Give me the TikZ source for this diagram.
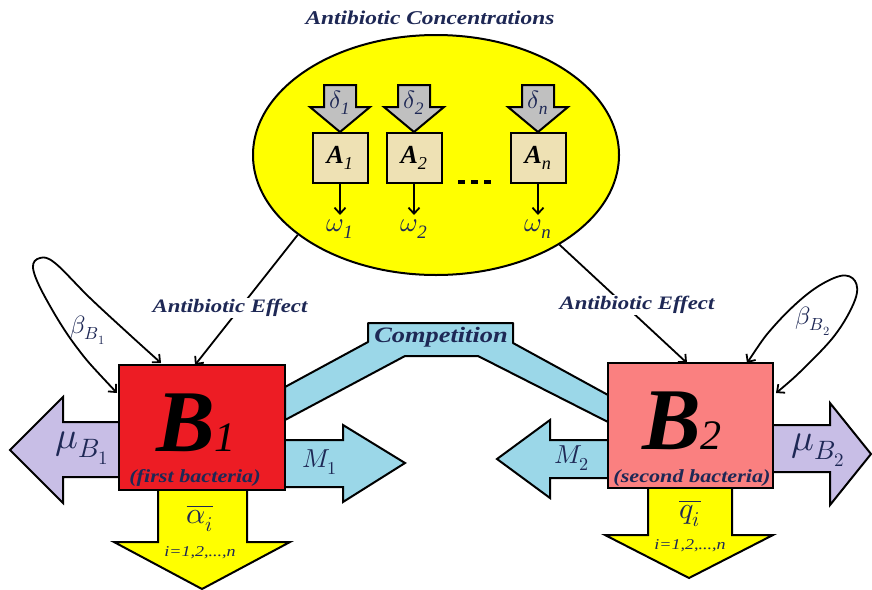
\documentclass[tikz,border=0pt]{standalone}
\usepackage{fontspec}
\usepackage{unicode-math}
\setmainfont{Liberation Serif}
\setmathfont{Latin Modern Math}
\newfontfamily\wideserif[FakeStretch=1.2]{Liberation Serif}
\usetikzlibrary{shapes.geometric,arrows.meta,calc}
\definecolor{navy}{RGB}{30,40,85}
\definecolor{ellyellow}{RGB}{255,255,0}
\definecolor{arrgray}{RGB}{192,192,192}
\definecolor{boxbeige}{RGB}{238,225,180}
\definecolor{bonered}{RGB}{237,28,36}
\definecolor{btwopink}{RGB}{250,128,128}
\definecolor{lavender}{RGB}{200,190,230}
\definecolor{lightcyan}{RGB}{155,215,232}
\begin{document}
\begin{tikzpicture}[x=1pt,y=-1pt,
  blk/.style={draw=black,line width=2pt,line join=miter},
  thinarrow/.style={line width=1.8pt,-{Straight Barb[length=6pt,width=11pt]}},
  loopline/.style={line width=1.8pt,{Straight Barb[length=6pt,width=11pt]}-{Straight Barb[length=6pt,width=11pt]}},
  lbl/.style={text=navy,inner sep=0pt},
  boxA/.style={draw,line width=2pt,fill=boxbeige,minimum width=55pt,minimum height=50pt,inner sep=0pt},
  bbox/.style={draw,line width=2pt,minimum width=166pt,minimum height=125pt,inner sep=0pt},
  effect/.style={fill=white,inner sep=1pt,text=navy,font=\wideserif\fontsize{19}{20}\selectfont\bfseries\itshape}
]
\useasboundingbox (0,0) rectangle (872,589);
\fill[white] (0,0) rectangle (872,589);

% title
\node[text=navy,inner sep=0pt] (title) at (430,18) {\wideserif\fontsize{19.5}{20}\selectfont\bfseries\itshape Antibiotic Concentrations};

% competition band (drawn first, boxes cover its ends)
\draw[blk,fill=lightcyan,line join=round] (285,387) -- (368,342) -- (368,323) -- (513,323) -- (513,343) -- (608,395) -- (608,422) -- (478,356) -- (405,356) -- (285,420) -- cycle;
\node[lbl] (comp) at (441,337) {\wideserif\fontsize{22}{22}\selectfont\bfseries\itshape Competition};

% concentration ellipse
\node[ellipse,draw,line width=2pt,fill=ellyellow,minimum width=366pt,minimum height=240pt,inner sep=0pt] (conc) at (436,155) {};

\foreach \cx/\s in {340/1,414/2,538/n} {
  \draw[blk,fill=arrgray] (\cx-16,85) -- (\cx+16,85) -- (\cx+16,107) -- (\cx+30,107) -- (\cx,132) -- (\cx-30,107) -- (\cx-16,107) -- cycle;
  \node[lbl] (d\s) at (\cx,103) {\fontsize{25}{25}\selectfont$\delta_{\mathit{\s}}$};
  \node[boxA] (A\s) at (\cx,158) {\fontsize{26}{26}\selectfont\bfseries\itshape A\textsubscript{\mdseries\s}};
  \draw[thinarrow] (A\s.south) -- ++(0,31);
  \node[lbl] (w\s) at (\cx,229) {\fontsize{27}{27}\selectfont$\omega_{\mathit{\s}}$};
}
\draw[line width=4pt,dash pattern=on 7pt off 6pt] (458,182) -- (496,182);

% bacteria boxes and side arrows
\draw[blk,fill=lavender] (119,422) -- (63,422) -- (63,397) -- (10,450) -- (63,503) -- (63,477) -- (119,477);
\draw[blk,fill=lightcyan] (285,440) -- (343,440) -- (343,425) -- (405,463) -- (343,502) -- (343,487) -- (285,487);
\draw[blk,fill=lightcyan] (608,440) -- (550,440) -- (550,420) -- (497,459) -- (550,498) -- (550,478) -- (608,478);
\draw[blk,fill=lavender] (773,425) -- (830,425) -- (830,403) -- (871,454) -- (830,505) -- (830,472) -- (773,472);
\draw[blk,fill=ellyellow] (158,490) -- (158,542) -- (114,542) -- (202,589) -- (290,542) -- (247,542) -- (247,490);
\draw[blk,fill=ellyellow] (648,488) -- (648,535) -- (605,535) -- (689,578) -- (773,535) -- (732,535) -- (732,488);

\node[bbox,fill=bonered] (B1) at (202,427.5) {};
\node[bbox,fill=btwopink,minimum width=165pt] (B2) at (690.5,425.5) {};

\node[inner sep=0pt,anchor=base] (B1t) at (196,451) {\fontsize{88}{88}\selectfont\bfseries\itshape B\fontsize{42}{42}\selectfont\mdseries 1};
\node[lbl] (B1s) at (195,478) {\wideserif\fontsize{18.5}{18}\selectfont\bfseries\itshape (first bacteria)};
\node[inner sep=0pt,anchor=base] (B2t) at (682,449) {\fontsize{88}{88}\selectfont\bfseries\itshape B\fontsize{42}{42}\selectfont\mdseries 2};
\node[lbl] (B2s) at (692,478) {\wideserif\fontsize{18.5}{18}\selectfont\bfseries\itshape (second bacteria)};

\node[lbl] (muB1) at (82,448) {\fontsize{38}{38}\selectfont$\mu_{B_1}$};
\node[lbl] (muB2) at (818,450) {\fontsize{38}{38}\selectfont$\mu_{B_2}$};
\node[lbl] (M1) at (320,462) {\fontsize{26}{26}\selectfont$M_1$};
\node[lbl] (M2) at (572,458) {\fontsize{26}{26}\selectfont$M_2$};
\node[lbl] (alpha) at (200,518) {\fontsize{30}{30}\selectfont$\overline{\alpha_i}$};
\node[lbl] (ia) at (200,553) {\wideserif\fontsize{15}{15}\selectfont\itshape i=1,2,...,n};
\node[lbl] (qq) at (690,513) {\fontsize{30}{30}\selectfont$\overline{q_i}$};
\node[lbl] (iq) at (690,546) {\wideserif\fontsize{15}{15}\selectfont\itshape i=1,2,...,n};

% antibiotic effect connectors
\coordinate (t1) at (195,365);
\coordinate (t2) at (687,363);
\draw[thinarrow] (conc.210.6) -- (t1);
\draw[thinarrow] (conc.324.9) -- (t2);
\node[effect] (ae1) at (230,308) {Antibiotic Effect};
\node[effect] (ae2) at (637,305) {Antibiotic Effect};

% growth loops
\draw[loopline] plot[smooth,tension=0.6] coordinates {(117,393) (75,345) (45,297) (33,268) (40,258) (55,263) (90,298) (130,335) (161,363)};
\draw[loopline] plot[smooth,tension=0.6] coordinates {(747,363) (775,325) (810,292) (840,276) (855,281) (855,300) (835,335) (800,372) (776,393)};
\node[lbl] (beta1) at (88,330) {\fontsize{25}{25}\selectfont$\beta_{B_1}$};
\node[lbl] (beta2) at (813,321) {\fontsize{25}{25}\selectfont$\beta_{B_2}$};
\end{tikzpicture}
\end{document}
